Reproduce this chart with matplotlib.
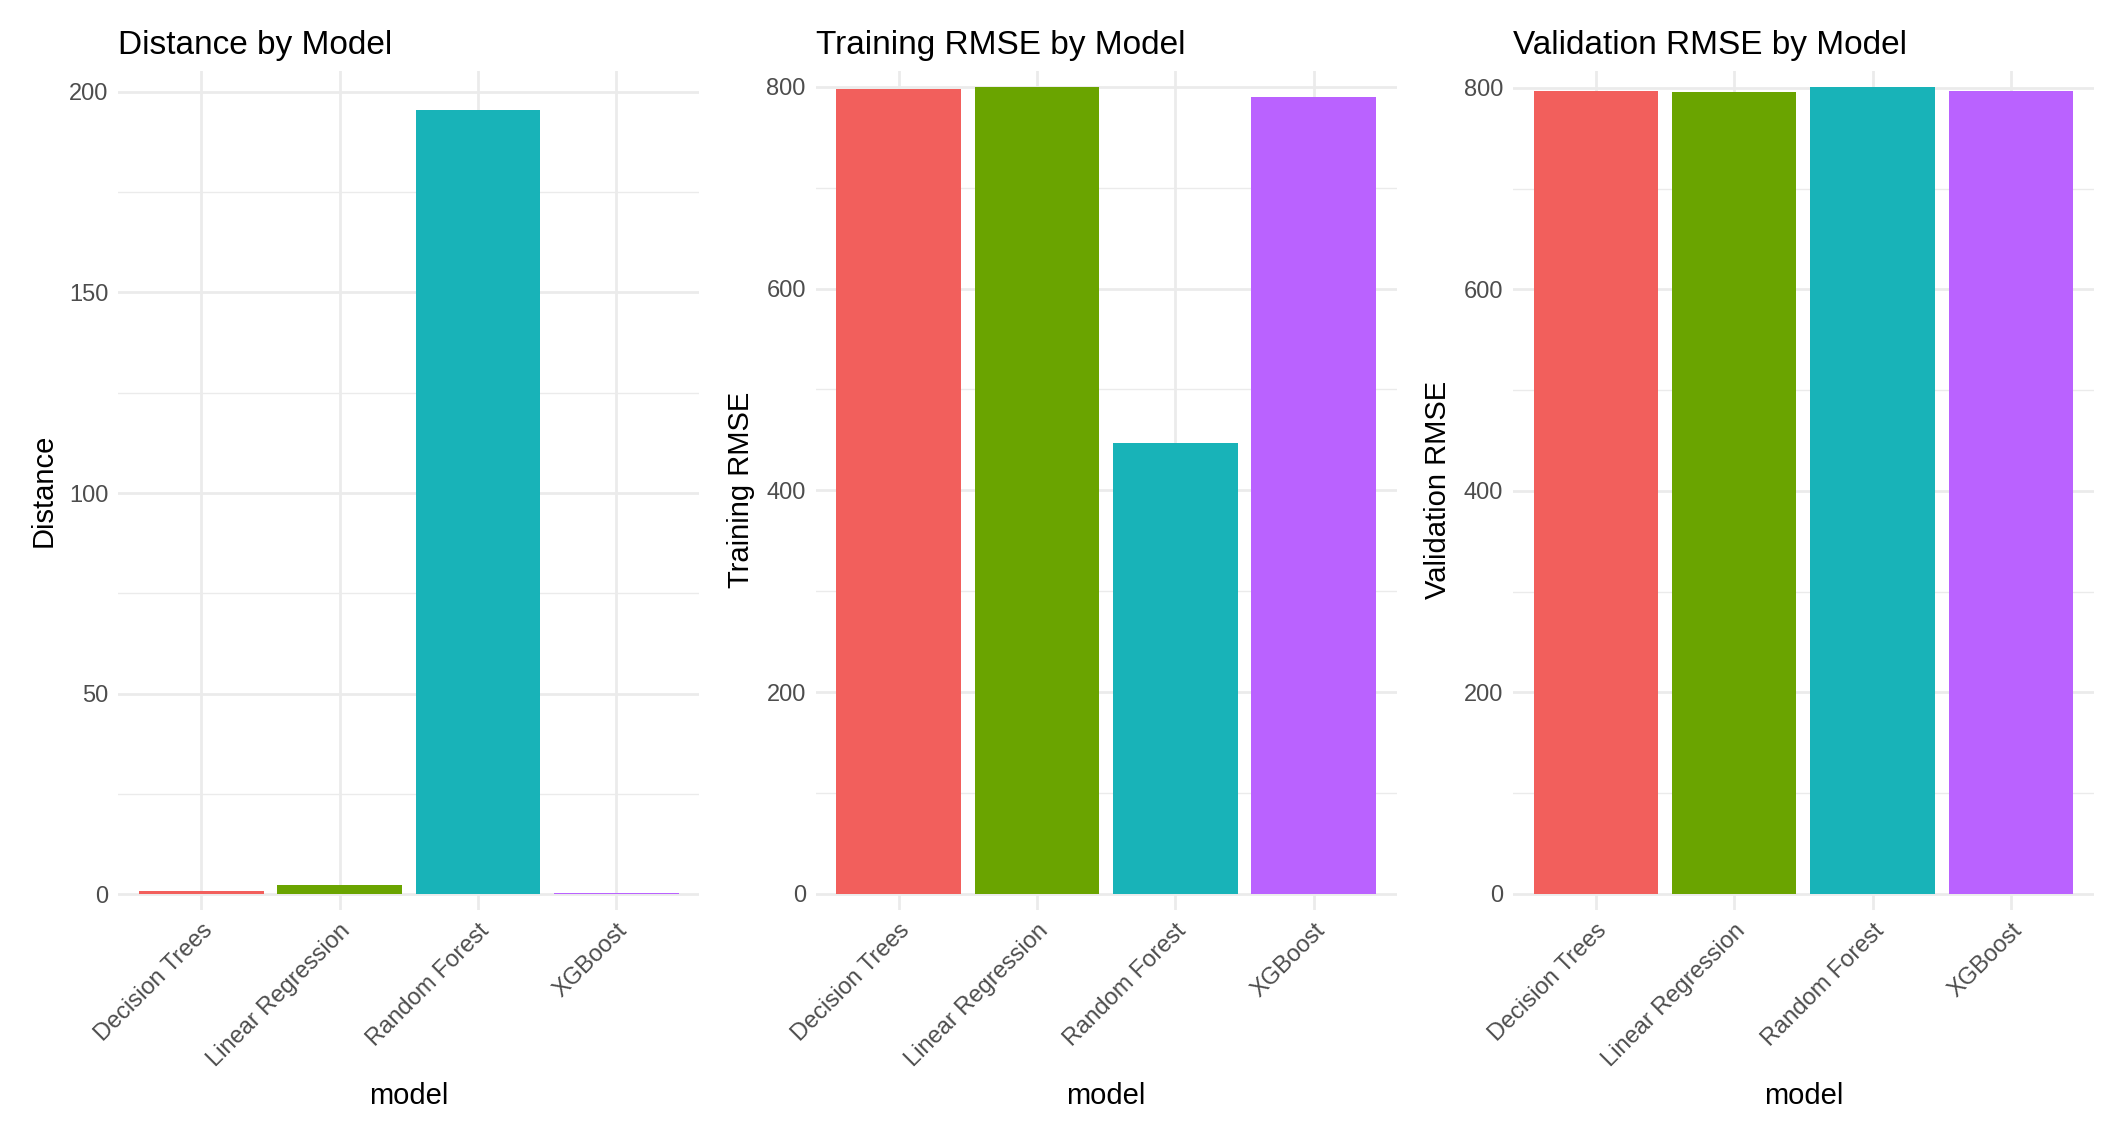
import matplotlib.pyplot as plt
import numpy as np

models = ["Decision Trees", "Linear Regression", "Random Forest", "XGBoost"]
colors = ["#F8766D", "#7CAE00", "#00BFC4", "#C77CFF"]
colors = ["#F25F5C", "#6AA400", "#18B3B8", "#BA62FF"]
distance = [0.7, 2.3, 195.5, 0.3]
train_rmse = [798, 800, 447, 790]
valid_rmse = [797, 796, 801, 797]

plt.rcParams['font.family'] = ['Liberation Sans', 'DejaVu Sans']

fig, axes = plt.subplots(1, 3, figsize=(10.62, 5.7), dpi=200)

panels = [
    (distance, "Distance", "Distance by Model", [0, 50, 100, 150, 200]),
    (train_rmse, "Training RMSE", "Training RMSE by Model", [0, 200, 400, 600, 800]),
    (valid_rmse, "Validation RMSE", "Validation RMSE by Model", [0, 200, 400, 600, 800]),
]

for ax, (vals, ylab, title, ticks) in zip(axes, panels):
    x = np.arange(len(models))
    ax.bar(x, vals, width=0.9, color=colors, zorder=2)
    ax.set_xlim(-0.6, 3.6)
    top = max(vals)
    ax.set_ylim(-top * 0.02, top * 1.05 if ylab == "Distance" else top * 1.02)
    ax.set_yticks(ticks)
    minor = [(a + b) / 2 for a, b in zip(ticks[:-1], ticks[1:])]
    ax.set_yticks(minor, minor=True)
    ax.set_xticks(x)
    ax.set_xticklabels(models, rotation=45, ha='right', rotation_mode='anchor')
    ax.grid(True, which='major', color='#EBEBEB', linewidth=1.0, zorder=0)
    ax.grid(True, which='minor', axis='y', color='#EBEBEB', linewidth=0.5, zorder=0)
    ax.tick_params(length=0, labelsize=8.5, colors='#4D4D4D', which='both')
    for s in ax.spines.values():
        s.set_visible(False)
    ax.set_title(title, loc='left', fontsize=12)
    ax.set_xlabel("model", fontsize=10.5)
    ax.set_ylabel(ylab, fontsize=10.5)

plt.tight_layout(w_pad=1.0)
plt.savefig("out.png", dpi=200)
